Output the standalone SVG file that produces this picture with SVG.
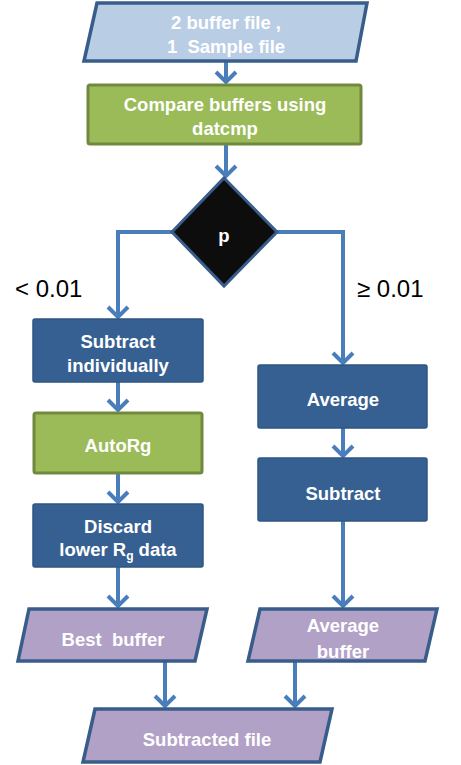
<svg xmlns="http://www.w3.org/2000/svg" width="461" height="765" viewBox="0 0 461 765">
<style>
.t{font-family:"Liberation Sans",Arial,sans-serif;font-weight:bold;font-size:18.5px;fill:#ffffff;text-anchor:middle}
.lbl{font-family:"Liberation Sans",Arial,sans-serif;font-size:24px;fill:#000000}
.blue{fill:#376092;stroke:#2f5583;stroke-width:1.5}
.green{fill:#9bbb59;stroke:#71893f;stroke-width:3}
.purple{fill:#b2a1c7;stroke:#385d8a;stroke-width:3.5}
.lblue{fill:#b9cde5;stroke:#385d8a;stroke-width:3.5}
.dec{fill:#0d0d0d;stroke:#385d8a;stroke-width:3}
.c{fill:none;stroke:#4a7ebb;stroke-width:4;marker-end:url(#ah)}
</style>
<defs>
<marker id="ah" markerUnits="userSpaceOnUse" markerWidth="30" markerHeight="30" viewBox="-15 -15 30 30" refX="0" refY="0" orient="auto">
<path d="M-10,-10 L0,0 L-10,10" fill="none" stroke="#4a7ebb" stroke-width="4"/>
</marker>
</defs>
<g id="connectors">
<path class="c" d="M226,61 V82"/>
<path class="c" d="M226,145 V176"/>
<path class="c" d="M172,232 H118 V317"/>
<path class="c" d="M277,232 H343 V363"/>
<path class="c" d="M118,382 V410"/>
<path class="c" d="M118,474 V502"/>
<path class="c" d="M118,567 V606"/>
<path class="c" d="M343,428 V456"/>
<path class="c" d="M343,521 V606"/>
<path class="c" d="M165,661 V706"/>
<path class="c" d="M295,661 V706"/>
</g>
<g id="input">
<polygon class="lblue" points="97,3 367,3 356,61 84,61"/>
<text class="t" x="226" y="29">2 buffer file ,</text>
<text class="t" x="226" y="53">1&#160; Sample file</text>
</g>
<g id="compare">
<rect class="green" x="88" y="85" width="273" height="59" rx="2"/>
<text class="t" x="225" y="111">Compare buffers using</text>
<text class="t" x="225" y="135">datcmp</text>
</g>
<g id="decision">
<polygon class="dec" points="224,178 277,232 224,286 172,232"/>
<text class="t" x="224" y="242">p</text>
</g>
<text class="lbl" x="15" y="297">&lt; 0.01</text>
<text class="lbl" x="357" y="297">≥ 0.01</text>
<g id="subtract-individually">
<rect class="blue" x="33" y="319" width="170" height="63" rx="2"/>
<text class="t" x="118" y="348">Subtract</text>
<text class="t" x="118" y="372">individually</text>
</g>
<g id="autorg">
<rect class="green" x="34" y="413" width="168" height="60" rx="2"/>
<text class="t" x="118" y="452">AutoRg</text>
</g>
<g id="discard">
<rect class="blue" x="33" y="504" width="170" height="63" rx="2"/>
<text class="t" x="118" y="533">Discard</text>
<text class="t" x="118" y="556">lower R<tspan font-size="12" dy="4">g</tspan><tspan dy="-4"> data</tspan></text>
</g>
<g id="average">
<rect class="blue" x="258" y="365" width="169" height="63" rx="2"/>
<text class="t" x="343" y="406">Average</text>
</g>
<g id="subtract">
<rect class="blue" x="258" y="458" width="169" height="63" rx="2"/>
<text class="t" x="343" y="500">Subtract</text>
</g>
<g id="best-buffer">
<polygon class="purple" points="29,609 207,609 195,661 18,661"/>
<text class="t" x="113" y="646">Best&#160; buffer</text>
</g>
<g id="average-buffer">
<polygon class="purple" points="260,609 437,609 425,661 248,661"/>
<text class="t" x="343" y="632">Average</text>
<text class="t" x="343" y="658">buffer</text>
</g>
<g id="subtracted-file">
<polygon class="purple" points="95,709 332,709 320,762 83,762"/>
<text class="t" x="207" y="746">Subtracted file</text>
</g>
</svg>
